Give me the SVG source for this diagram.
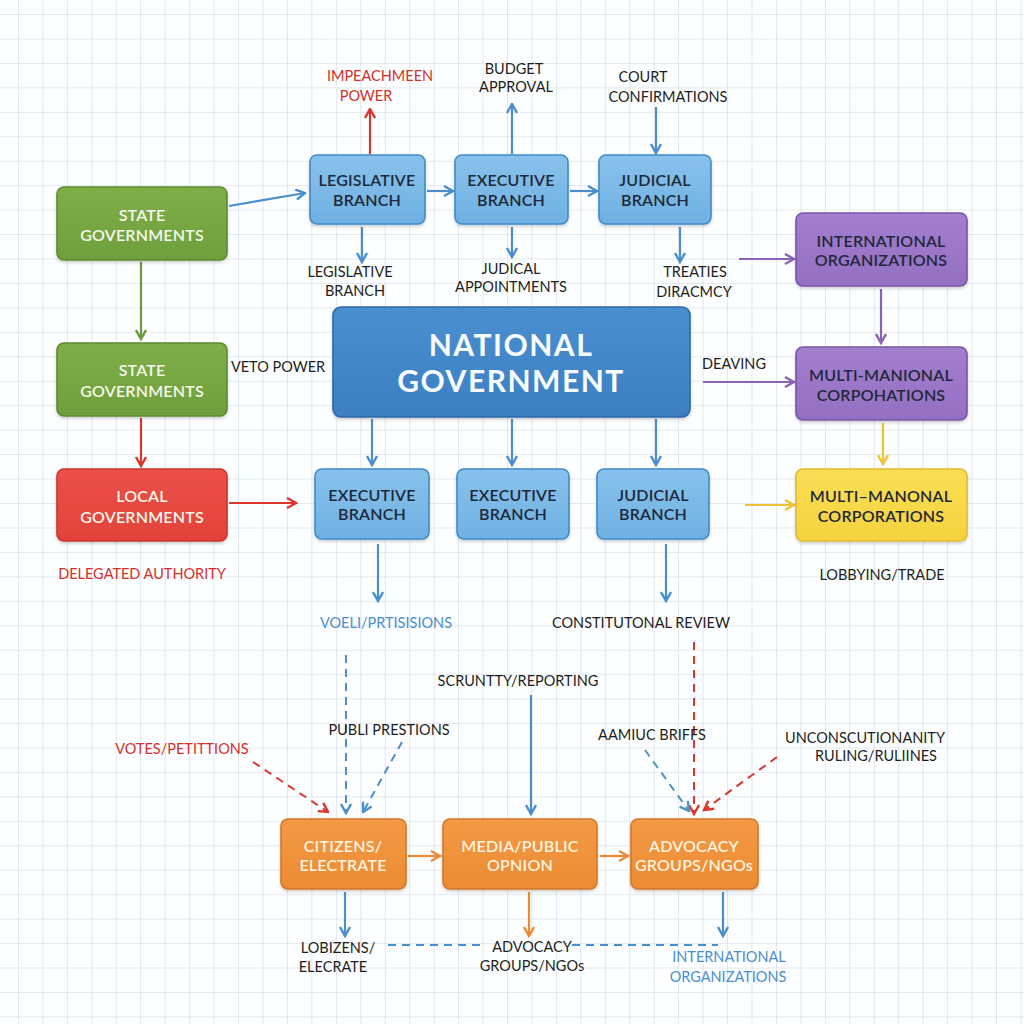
<svg xmlns="http://www.w3.org/2000/svg" width="1024" height="1024" viewBox="0 0 1024 1024">
<defs>
<pattern id="grid" x="18" y="14" width="24.45" height="24.45" patternUnits="userSpaceOnUse">
<path d="M0,0 H24.45 M0,0 V24.45" fill="none" stroke="#ccd4df" stroke-width="1.1"/>
</pattern>
<filter id="sh" x="-10%" y="-10%" width="120%" height="130%">
<feDropShadow dx="0" dy="2" stdDeviation="1.8" flood-color="#000" flood-opacity="0.18"/>
</filter>
<linearGradient id="gBlue" x1="0" y1="0" x2="0" y2="1"><stop offset="0" stop-color="#88c2ec"/><stop offset="1" stop-color="#6fb0e2"/></linearGradient>
<linearGradient id="gNat" x1="0" y1="0" x2="0" y2="1"><stop offset="0" stop-color="#4a8fd0"/><stop offset="1" stop-color="#3b7fc2"/></linearGradient>
<linearGradient id="gGreen" x1="0" y1="0" x2="0" y2="1"><stop offset="0" stop-color="#7fae48"/><stop offset="1" stop-color="#6f9f3c"/></linearGradient>
<linearGradient id="gRed" x1="0" y1="0" x2="0" y2="1"><stop offset="0" stop-color="#ec5148"/><stop offset="1" stop-color="#e2423a"/></linearGradient>
<linearGradient id="gPurple" x1="0" y1="0" x2="0" y2="1"><stop offset="0" stop-color="#a47ecf"/><stop offset="1" stop-color="#9470c2"/></linearGradient>
<linearGradient id="gYellow" x1="0" y1="0" x2="0" y2="1"><stop offset="0" stop-color="#fadf55"/><stop offset="1" stop-color="#f5d23e"/></linearGradient>
<linearGradient id="gOrange" x1="0" y1="0" x2="0" y2="1"><stop offset="0" stop-color="#f29a44"/><stop offset="1" stop-color="#ec8b33"/></linearGradient>
<marker id="aBlue" viewBox="0 0 12 12" refX="10.5" refY="6" markerWidth="12" markerHeight="12" markerUnits="userSpaceOnUse" orient="auto"><path d="M1.5,1 L10.5,6 L1.5,11" fill="none" stroke="#4a8fcc" stroke-width="2.4"/></marker>
<marker id="aRed" viewBox="0 0 12 12" refX="10.5" refY="6" markerWidth="12" markerHeight="12" markerUnits="userSpaceOnUse" orient="auto"><path d="M1.5,1 L10.5,6 L1.5,11" fill="none" stroke="#d9362e" stroke-width="2.4"/></marker>
<marker id="aGreen" viewBox="0 0 12 12" refX="10.5" refY="6" markerWidth="12" markerHeight="12" markerUnits="userSpaceOnUse" orient="auto"><path d="M1.5,1 L10.5,6 L1.5,11" fill="none" stroke="#6a9a3a" stroke-width="2.4"/></marker>
<marker id="aPurple" viewBox="0 0 12 12" refX="10.5" refY="6" markerWidth="12" markerHeight="12" markerUnits="userSpaceOnUse" orient="auto"><path d="M1.5,1 L10.5,6 L1.5,11" fill="none" stroke="#8a62b8" stroke-width="2.4"/></marker>
<marker id="aYellow" viewBox="0 0 12 12" refX="10.5" refY="6" markerWidth="12" markerHeight="12" markerUnits="userSpaceOnUse" orient="auto"><path d="M1.5,1 L10.5,6 L1.5,11" fill="none" stroke="#eec234" stroke-width="2.4"/></marker>
<marker id="aOrange" viewBox="0 0 12 12" refX="10.5" refY="6" markerWidth="12" markerHeight="12" markerUnits="userSpaceOnUse" orient="auto"><path d="M1.5,1 L10.5,6 L1.5,11" fill="none" stroke="#ee8a35" stroke-width="2.4"/></marker>
<marker id="aTeal" viewBox="0 0 12 12" refX="10.5" refY="6" markerWidth="12" markerHeight="12" markerUnits="userSpaceOnUse" orient="auto"><path d="M1.5,1 L10.5,6 L1.5,11" fill="none" stroke="#4a9ab8" stroke-width="2.4"/></marker>
</defs>
<style>
text{font-family:Lato,"Open Sans","Liberation Sans",sans-serif;text-anchor:middle}
.box{stroke-width:1.6;filter:url(#sh)}
.blue{fill:url(#gBlue);stroke:#3f8bc9}
.nat{fill:url(#gNat);stroke:#2c6aa8}
.green{fill:url(#gGreen);stroke:#5d8a30}
.red{fill:url(#gRed);stroke:#c9352d}
.purple{fill:url(#gPurple);stroke:#7854a6}
.yellow{fill:url(#gYellow);stroke:#e2bb2c}
.orange{fill:url(#gOrange);stroke:#d4762a}
.lbl{font-size:16px;font-weight:600;letter-spacing:0.2px}
.dk{fill:#1d2838}
.lt{fill:#f6f8ec}
.or{fill:#fff3e2}
.cap{font-size:14.5px;fill:#1e1e22}
.capR{font-size:14.5px;fill:#d3302a}
.capB{font-size:14.5px;fill:#4a8fcc}
.ln{fill:none;stroke-width:2.2}
.sb{stroke:#4a8fcc}
.sr{stroke:#d9362e}
.sg{stroke:#6a9a3a}
.sp{stroke:#8a62b8}
.sy{stroke:#eec234}
.so{stroke:#ee8a35}
.st{stroke:#4a9ab8}
.dash{stroke-dasharray:8 6;stroke-width:2}
</style>
<rect width="1024" height="1024" fill="#fdfeff"/>
<rect width="1024" height="1024" fill="url(#grid)"/>

<g id="connectors">
<line class="ln sb" x1="229" y1="206" x2="305" y2="193" marker-end="url(#aBlue)"/>
<line class="ln sg" x1="141" y1="262" x2="141" y2="339" marker-end="url(#aGreen)"/>
<line class="ln sr" x1="141" y1="418" x2="141" y2="466" marker-end="url(#aRed)"/>
<line class="ln sr" x1="229" y1="503" x2="296" y2="503" marker-end="url(#aRed)"/>
<line class="ln sb" x1="427" y1="191" x2="453" y2="191" marker-end="url(#aBlue)"/>
<line class="ln sb" x1="570" y1="191" x2="597" y2="191" marker-end="url(#aBlue)"/>
<line class="ln sr" x1="370" y1="154" x2="370" y2="109" marker-end="url(#aRed)"/>
<line class="ln sb" x1="512" y1="154" x2="512" y2="104" marker-end="url(#aBlue)"/>
<line class="ln sb" x1="656" y1="107" x2="656" y2="153" marker-end="url(#aBlue)"/>
<line class="ln sb" x1="362" y1="227" x2="362" y2="262" marker-end="url(#aBlue)"/>
<line class="ln sb" x1="512" y1="227" x2="512" y2="257" marker-end="url(#aBlue)"/>
<line class="ln sb" x1="680" y1="227" x2="680" y2="262" marker-end="url(#aBlue)"/>
<line class="ln sp" x1="739" y1="259" x2="794" y2="259" marker-end="url(#aPurple)"/>
<line class="ln sp" x1="881" y1="289" x2="881" y2="343" marker-end="url(#aPurple)"/>
<line class="ln sp" x1="703" y1="382" x2="794" y2="382" marker-end="url(#aPurple)"/>
<line class="ln sy" x1="883" y1="423" x2="883" y2="464" marker-end="url(#aYellow)"/>
<line class="ln sy" x1="745" y1="505" x2="794" y2="505" marker-end="url(#aYellow)"/>
<line class="ln sb" x1="372" y1="419" x2="372" y2="465" marker-end="url(#aBlue)"/>
<line class="ln sb" x1="512" y1="419" x2="512" y2="465" marker-end="url(#aBlue)"/>
<line class="ln sb" x1="656" y1="419" x2="656" y2="465" marker-end="url(#aBlue)"/>
<line class="ln sb" x1="378" y1="544" x2="378" y2="601" marker-end="url(#aBlue)"/>
<line class="ln sb" x1="666" y1="544" x2="666" y2="601" marker-end="url(#aBlue)"/>
<line class="ln sb dash" x1="346" y1="655" x2="346" y2="813" marker-end="url(#aBlue)"/>
<line class="ln sb dash" x1="402" y1="742" x2="363" y2="812" marker-end="url(#aBlue)"/>
<line class="ln sr dash" x1="253" y1="762" x2="328" y2="812" marker-end="url(#aRed)"/>
<line class="ln sb" x1="531" y1="695" x2="531" y2="814" marker-end="url(#aBlue)"/>
<line class="ln sr dash" x1="694" y1="642" x2="694" y2="814" marker-end="url(#aRed)"/>
<line class="ln st dash" x1="645" y1="750" x2="689" y2="811" marker-end="url(#aTeal)"/>
<line class="ln sr dash" x1="777" y1="757" x2="704" y2="810" marker-end="url(#aRed)"/>
<line class="ln so" x1="408" y1="856" x2="440" y2="856" marker-end="url(#aOrange)"/>
<line class="ln so" x1="600" y1="856" x2="628" y2="856" marker-end="url(#aOrange)"/>
<line class="ln sb" x1="345" y1="892" x2="345" y2="936" marker-end="url(#aBlue)"/>
<line class="ln so" x1="529" y1="892" x2="529" y2="936" marker-end="url(#aOrange)"/>
<line class="ln sb" x1="723" y1="892" x2="723" y2="936" marker-end="url(#aBlue)"/>
<line class="ln sb dash" x1="388" y1="945" x2="481" y2="945"/>
<line class="ln sb dash" x1="572" y1="945" x2="718" y2="945"/>
</g>

<g id="state-gov-1"><rect class="box green" x="57" y="187" width="170" height="73" rx="7"/><text class="lbl lt" x="142" y="221">STATE<tspan x="142" y="241">GOVERNMENTS</tspan></text></g>
<g id="state-gov-2"><rect class="box green" x="57" y="343" width="170" height="73" rx="7"/><text class="lbl lt" x="142" y="376">STATE<tspan x="142" y="397">GOVERNMENTS</tspan></text></g>
<g id="local-gov"><rect class="box red" x="57" y="469" width="170" height="72" rx="7"/><text class="lbl lt" x="142" y="502">LOCAL<tspan x="142" y="523">GOVERNMENTS</tspan></text></g>

<g id="legislative-top"><rect class="box blue" x="310" y="155" width="115" height="69" rx="7"/><text class="lbl dk" x="367" y="186">LEGISLATIVE<tspan x="367" y="205.5">BRANCH</tspan></text></g>
<g id="executive-top"><rect class="box blue" x="455" y="155" width="113" height="69" rx="7"/><text class="lbl dk" x="511" y="186">EXECUTIVE<tspan x="511" y="205.5">BRANCH</tspan></text></g>
<g id="judicial-top"><rect class="box blue" x="599" y="155" width="112" height="69" rx="7"/><text class="lbl dk" x="655" y="186">JUDICIAL<tspan x="655" y="205.5">BRANCH</tspan></text></g>

<g id="national-gov"><rect class="box nat" x="333" y="307" width="357" height="110" rx="8"/><text x="511" y="356" font-size="30" font-weight="700" letter-spacing="1.5" fill="#f8fbff">NATIONAL<tspan x="511" y="392">GOVERNMENT</tspan></text></g>

<g id="executive-mid-1"><rect class="box blue" x="315" y="469" width="114" height="70" rx="7"/><text class="lbl dk" x="372" y="501">EXECUTIVE<tspan x="372" y="520">BRANCH</tspan></text></g>
<g id="executive-mid-2"><rect class="box blue" x="457" y="469" width="112" height="70" rx="7"/><text class="lbl dk" x="513" y="501">EXECUTIVE<tspan x="513" y="520">BRANCH</tspan></text></g>
<g id="judicial-mid"><rect class="box blue" x="597" y="469" width="112" height="70" rx="7"/><text class="lbl dk" x="653" y="501">JUDICIAL<tspan x="653" y="520">BRANCH</tspan></text></g>

<g id="intl-orgs"><rect class="box purple" x="796" y="213" width="171" height="73" rx="7"/><text class="lbl dk" x="881" y="247">INTERNATIONAL<tspan x="881" y="266">ORGANIZATIONS</tspan></text></g>
<g id="multinational-purple"><rect class="box purple" x="796" y="347" width="171" height="73" rx="7"/><text class="lbl dk" x="881" y="381">MULTI-MANIONAL<tspan x="881" y="401">CORPOHATIONS</tspan></text></g>
<g id="multinational-yellow"><rect class="box yellow" x="796" y="469" width="171" height="72" rx="7"/><text class="lbl dk" x="881" y="502">MULTI–MANONAL<tspan x="881" y="522">CORPORATIONS</tspan></text></g>

<g id="citizens"><rect class="box orange" x="281" y="819" width="125" height="70" rx="7"/><text class="lbl or" x="343" y="852">CITIZENS/<tspan x="343" y="871">ELECTRATE</tspan></text></g>
<g id="media"><rect class="box orange" x="443" y="819" width="154" height="70" rx="7"/><text class="lbl or" x="520" y="852">MEDIA/PUBLIC<tspan x="520" y="871">OPNION</tspan></text></g>
<g id="advocacy"><rect class="box orange" x="631" y="819" width="127" height="70" rx="7"/><text class="lbl or" x="694" y="852">ADVOCACY<tspan x="694" y="871">GROUPS/NGOs</tspan></text></g>

<g id="labels">
<text class="capR" x="380" y="81">IMPEACHMEEN<tspan x="366" y="101">POWER</tspan></text>
<text class="cap" x="514" y="74">BUDGET<tspan x="516" y="92">APPROVAL</tspan></text>
<text class="cap" x="643" y="82">COURT<tspan x="668" y="102">CONFIRMATIONS</tspan></text>
<text class="cap" x="350" y="277">LEGISLATIVE<tspan x="355" y="296">BRANCH</tspan></text>
<text class="cap" x="511" y="274">JUDICAL<tspan x="511" y="292">APPOINTMENTS</tspan></text>
<text class="cap" x="695" y="277">TREATIES<tspan x="694" y="297">DIRACMCY</tspan></text>
<text class="cap" x="278" y="372">VETO POWER</text>
<text class="cap" x="734" y="369">DEAVING</text>
<text class="capR" x="142" y="579">DELEGATED AUTHORITY</text>
<text class="cap" x="882" y="580">LOBBYING/TRADE</text>
<text class="capB" x="386" y="628">VOELI/PRTISISIONS</text>
<text class="cap" x="641" y="628">CONSTITUTONAL REVIEW</text>
<text class="cap" x="518" y="686">SCRUNTTY/REPORTING</text>
<text class="cap" x="389" y="735">PUBLI PRESTIONS</text>
<text class="capR" x="182" y="754">VOTES/PETITTIONS</text>
<text class="cap" x="652" y="740">AAMIUC BRIFFS</text>
<text class="cap" x="865" y="743">UNCONSCUTIONANITY<tspan x="876" y="761">RULING/RULIINES</tspan></text>
<text class="cap" x="338" y="953">LOBIZENS/<tspan x="333" y="972">ELECRATE</tspan></text>
<text class="cap" x="532" y="952">ADVOCACY<tspan x="532" y="971">GROUPS/NGOs</tspan></text>
<text class="capB" x="729" y="962">INTERNATIONAL<tspan x="728" y="982">ORGANIZATIONS</tspan></text>
</g>
</svg>
